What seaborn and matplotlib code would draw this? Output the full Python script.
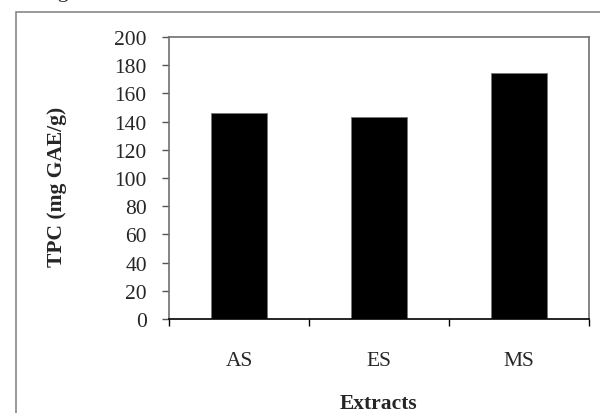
import matplotlib
matplotlib.use("Agg")
import matplotlib.pyplot as plt
import seaborn as sns
import pandas as pd
from matplotlib.patches import Rectangle

# values
extracts = ["AS", "ES", "MS"]
tpc = [146, 143, 174.5]
y_ticks = list(range(0, 201, 20))

data = pd.DataFrame({"Extracts": extracts, "TPC": tpc})

sns.set_style("ticks")
plt.rcParams['font.family'] = ['Liberation Serif', 'DejaVu Serif']

W, H = 600, 414
fig = plt.figure(figsize=(6, 4.14), dpi=100)
ax = fig.add_axes([169 / W, 1 - 320 / H, 420 / W, 282 / H])

sns.barplot(data=data, x="Extracts", y="TPC", color="black", width=0.4,
            saturation=1, ax=ax)
for p in ax.patches:
    p.set_edgecolor("#777777")
    p.set_linewidth(0.6)

ax.set_ylim(0, 200)
ax.set_xlim(-0.5, 2.5)
ax.set_yticks(y_ticks)
ax.tick_params(axis="y", direction="out", length=5, width=1, color="#555555",
               labelsize=15.5, pad=11)
ax.set_xticks(range(len(extracts)))
ax.set_xticks([-0.5, 0.5, 1.5, 2.5], minor=True)
ax.tick_params(axis="x", which="major", length=0, labelsize=15.5, pad=23)
ax.tick_params(axis="x", which="minor", direction="out", length=5, width=1,
               color="black")

for side in ["left", "top", "right"]:
    ax.spines[side].set_visible(True)
    ax.spines[side].set_color("#707070")
    ax.spines[side].set_linewidth(1.2)
ax.spines["bottom"].set_color("black")
ax.spines["bottom"].set_linewidth(1.2)

ax.set_xlabel("")
ax.set_ylabel("")
fig.text(57 / W, 1 - 187 / H, "TPC (mg GAE/g)", rotation=90, ha="center",
         va="center", fontsize=15.5, fontweight="bold")
fig.text(378 / W, 1 - 404 / H, "Extracts", ha="center", va="center",
         fontsize=15.5, fontweight="bold")

# outer frame and the caption above it, cut by the top edge as in the source
fig.patches.append(Rectangle((16 / W, -0.1), 1.0, 1 - 13 / H + 0.1,
                             transform=fig.transFigure, fill=False,
                             edgecolor="#888888", linewidth=1.2))
fig.text(39 / W, 1.0 + 3 / H, "Figure 1", ha="left", va="baseline",
         fontsize=16)

fig.savefig("out.png", dpi=100)
